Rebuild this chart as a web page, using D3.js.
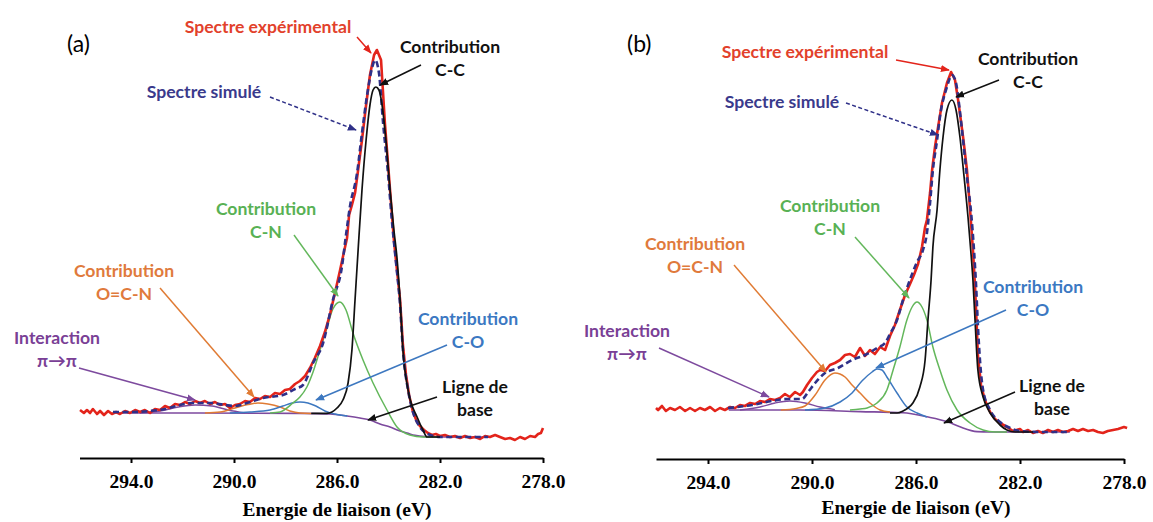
<!DOCTYPE html>
<html><head><meta charset="utf-8">
<script src="https://cdn.jsdelivr.net/npm/d3@7"></script>
<style>body{margin:0;background:#fff;} svg{display:block;}</style>
</head><body><svg id="c" width="1153" height="522"></svg>
<script>
// ---------- data ----------
const tickValues = [294, 290, 286, 282, 278];
const xDomain = [296, 278];
const axisTitle = "Energie de liaison (eV)";

// Panel (a)  [binding energy eV, intensity a.u.]
const expA = [[295.98,6.75],[295.83,6.0],[295.71,6.75],[295.59,6.0],[295.48,7.0],[295.32,5.75],[295.20,6.5],[295.05,5.5],[294.89,6.5],[294.74,5.75],[294.58,6.25],[294.43,5.75],[294.23,6.5],[294.04,6.0],[293.84,6.75],[293.65,6.25],[293.46,6.75],[293.26,6.0],[293.07,7.0],[292.87,6.75],[292.68,7.75],[292.49,7.25],[292.29,8.25],[292.10,8.0],[291.90,8.75],[291.71,8.25],[291.51,9.0],[291.32,8.5],[291.13,9.0],[290.93,8.25],[290.74,8.75],[290.54,8.0],[290.35,8.25],[290.16,7.25],[289.96,8.0],[289.77,8.25],[289.57,9.0],[289.38,8.75],[289.18,9.75],[288.99,9.5],[288.80,10.25],[288.60,10.0],[288.41,11.0],[288.21,10.75],[288.02,11.75],[287.83,12.0],[287.63,13.25],[287.44,14.0],[287.24,15.25],[287.05,17.25],[286.86,19.75],[286.66,22.75],[286.47,26.25],[286.27,30.75],[286.08,36],[285.88,41.75],[285.73,46.25],[285.61,49.75],[285.53,55.5],[285.42,58],[285.30,61],[285.18,66.75],[285.03,74.25],[284.87,83],[284.72,90.5],[284.56,95.5],[284.45,96.75],[284.37,95.5],[284.29,94.25],[284.14,78.5],[283.94,61.75],[283.79,49.25],[283.71,44.25],[283.55,34.25],[283.44,23],[283.32,15.5],[283.20,10.5],[283.05,6.25],[282.89,3.75],[282.78,2.75],[282.62,1.75],[282.47,1.0],[282.31,0.5],[282.16,0.75],[282.00,0.25],[281.81,0.5],[281.61,0],[281.42,0.25],[281.22,-0.25],[281.03,0.25],[280.83,-0.25],[280.64,0],[280.44,-0.5],[280.25,0.25],[280.06,0],[279.86,0.5],[279.67,0],[279.47,-0.5],[279.28,-0.25],[279.09,-0.75],[278.89,0],[278.70,-0.5],[278.50,0.25],[278.31,0],[278.19,0.75],[278.08,1.0],[278.0,2.25]];
const simA = [[294.70,6.25],[294.04,6.25],[293.26,6.5],[292.68,7.0],[292.10,8.0],[291.59,8.5],[290.93,8.5],[290.35,8.0],[289.96,7.75],[289.50,8.5],[288.87,9.75],[288.10,10.5],[287.63,12],[287.32,13],[286.93,18.5],[286.54,23.5],[286.16,34.25],[285.81,42.5],[285.65,50.5],[285.50,57.5],[285.22,66],[285.03,76],[284.80,86.75],[284.64,92.25],[284.52,94.25],[284.37,91],[284.21,78.5],[284.02,66],[283.86,53.5],[283.71,43.75],[283.55,33],[283.44,21.75],[283.24,11.75],[283.05,6.25],[282.78,2.5],[282.47,0.75],[282.0,0],[280.83,0],[280.13,0]];
const ccA = [[287.0,5.9],[286.39,5.9],[286.0,7.25],[285.77,9.25],[285.57,13.5],[285.42,21.75],[285.30,34.25],[285.18,46.75],[285.03,61.75],[284.87,74.25],[284.72,83],[284.60,86.75],[284.49,87.5],[284.37,86.75],[284.25,83],[284.10,74.25],[283.94,61.75],[283.79,51.75],[283.67,44.75],[283.55,34.25],[283.44,21.75],[283.24,11.75],[282.89,5.0],[282.66,1.75],[282.50,0],[282.0,0]];
const cnA = [[288.6,6],[288.21,6.25],[287.71,8.5],[287.44,10],[287.17,12.5],[286.93,16.25],[286.66,21.75],[286.39,27.25],[286.16,32],[285.89,33.75],[285.65,31.75],[285.38,26],[284.99,19.25],[284.6,13.5],[284.06,6.75],[283.67,2.5],[283.17,0.5],[282.66,0],[282.0,0]];
const coA = [[290.16,6],[289.38,6.25],[288.6,6.75],[288.1,7.75],[287.75,8.5],[287.44,8.75],[287.13,8.5],[286.82,7.75],[286.47,6.5],[286.08,5.75],[285.6,5.25]];
const ocnA = [[291.13,6],[290.54,6.25],[289.96,7.25],[289.46,8.1],[289.07,8.5],[288.68,8.25],[288.21,7.5],[287.83,6.5],[287.44,6],[287.0,5.9]];
const piA = [[293.65,6],[292.87,6.5],[292.17,7.5],[291.51,8],[290.85,7.75],[290.23,6.75],[289.57,6]];
const baseA = [[294.7,6],[291.32,6],[287.44,5.9],[286.27,5.75],[285.61,5.25],[285.11,4.75],[284.72,4.25],[284.33,3.25],[283.94,2.5],[283.55,1.5],[283.28,1.0],[282.97,0.4],[282.58,0.1],[282.0,0],[280.06,0]];

// Panel (b)
const expB = [[296.0,6.0],[295.92,5.5],[295.77,6.5],[295.62,5.25],[295.46,6.0],[295.27,5.5],[295.08,6.25],[294.88,5.25],[294.69,6.0],[294.50,5.25],[294.31,6.0],[294.12,5.5],[293.92,6.25],[293.73,5.25],[293.54,6.0],[293.35,5.5],[293.15,6.25],[292.96,6.0],[292.77,6.75],[292.58,6.5],[292.38,7.25],[292.19,7.0],[292.0,7.75],[291.81,7.5],[291.62,8.25],[291.42,8.0],[291.23,8.5],[291.04,9.5],[290.85,8.75],[290.65,10.0],[290.46,9.25],[290.35,10],[290.19,11.75],[290.0,13.5],[289.81,15],[289.69,15.5],[289.5,15.25],[289.31,16.75],[289.12,17.25],[288.92,18],[288.73,19.25],[288.54,19.5],[288.35,18.75],[288.15,21],[287.96,19],[287.77,20.5],[287.58,19.5],[287.38,21.25],[287.19,20.5],[287.0,24],[286.81,26.75],[286.62,30.5],[286.42,34.25],[286.23,37],[286.08,39.25],[285.92,42],[285.77,46.25],[285.65,51.25],[285.58,53],[285.46,59.75],[285.38,65.5],[285.27,71.25],[285.15,76.25],[285.0,82.25],[284.81,87.25],[284.65,90],[284.5,88],[284.38,83],[284.19,73.75],[284.04,65.5],[283.92,55.5],[283.81,45.5],[283.73,36.5],[283.67,27.5],[283.62,19.25],[283.50,11.75],[283.35,8],[283.15,5],[282.96,3.25],[282.77,2.25],[282.5,1.25],[282.27,0.25],[282.0,0.75],[281.88,0],[281.69,0.5],[281.5,-0.25],[281.31,0.25],[281.12,-0.25],[280.92,0.5],[280.73,0],[280.54,0.5],[280.35,0],[280.15,0.25],[279.96,0.75],[279.77,0.25],[279.58,0.75],[279.38,0.25],[279.19,0.5],[279.0,0],[278.81,-0.25],[278.62,0.25],[278.42,0.5],[278.23,0.75],[278.0,1.25],[277.88,1.0]];
const simB = [[293.23,6],[292.31,6.75],[291.54,7.75],[290.92,8.25],[290.38,8.25],[290.15,10],[289.88,12.25],[289.5,14.75],[289.0,16],[288.46,18],[287.96,19.25],[287.5,21],[287.19,22.25],[287.0,24.5],[286.73,28],[286.5,33],[286.12,40],[285.96,42.5],[285.73,45.5],[285.58,49.75],[285.46,57.25],[285.35,65.5],[285.19,73],[285.08,78.75],[284.81,86.25],[284.62,89.25],[284.46,87.25],[284.35,82.25],[284.19,73],[284.04,63.75],[283.88,54.75],[283.77,45.5],[283.69,36.75],[283.62,26.75],[283.54,18],[283.42,10.5],[283.15,5.5],[282.77,2.5],[282.38,1.0],[282.0,0.25],[281.23,0],[280.08,0]];
const ccB = [[287.0,4.75],[286.73,4.75],[286.5,5.25],[286.31,6.0],[286.12,7.25],[285.85,11.25],[285.65,18],[285.54,28],[285.42,38],[285.35,46.25],[285.19,55.5],[285.08,65.5],[284.96,73.75],[284.81,80.5],[284.62,83],[284.46,80.5],[284.31,73.75],[284.15,63.75],[284.0,53.75],[283.88,44.25],[283.81,38],[283.73,28],[283.62,15.5],[283.42,8.75],[283.15,4.75],[282.77,1.75],[282.5,0.5],[282.19,0],[281.5,0]];
const cnB = [[288.54,5.5],[288.15,5.75],[287.88,6.0],[287.5,7.25],[287.12,10.5],[286.88,15.5],[286.62,21.25],[286.35,28],[286.15,31.25],[285.96,32.5],[285.77,31.25],[285.58,28],[285.35,21.25],[285.08,15.5],[284.81,10.5],[284.42,5.5],[283.92,2.25],[283.42,0.5],[282.96,0],[282.5,0]];
const coB = [[290.27,5.5],[289.5,6.0],[288.92,7.5],[288.46,9.75],[288.08,12.75],[287.69,15],[287.5,15.75],[287.31,15.5],[287.12,13.75],[286.73,9.75],[286.35,6.25],[285.96,4.75],[285.58,3.75]];
const ocnB = [[291.2,5.5],[290.6,5.9],[290.27,6.5],[289.88,9.25],[289.5,13],[289.12,14.75],[288.73,13.75],[288.46,11.75],[288.15,9.75],[287.77,7.25],[287.38,5.5],[287.0,5]];
const piB = [[292.77,5.5],[292.0,6.25],[291.42,7.25],[290.85,7.75],[290.27,7.25],[289.69,6.25],[289.12,5.6]];
const baseB = [[293.2,5.5],[290.46,5.5],[288.15,5.1],[286.5,4.8],[285.58,3.8],[284.81,2.6],[284.31,1.3],[283.65,0.1],[283.15,0],[280.08,0]];

// ---------- styling ----------
const C = {
  exp:"#e3241b", sim:"#2f3088", cc:"#111111", cn:"#63b75b", co:"#3d78c0", ocn:"#e07b34", pi:"#7d4a9e", base:"#7d4a9e",
  tExp:"#e2412b", tSim:"#3a3a8c", tCC:"#111111", tCN:"#58b154", tOCN:"#e07a3c", tCO:"#3b78c2", tPi:"#7a3f96"
};

const panels = [
  { tag:"(a)", tagX:67, xr:[79.5,543], yr:[437,37], axisY:458, titleY:516,
    series:{exp:expA, sim:simA, cc:ccA, cn:cnA, co:coA, ocn:ocnA, pi:piA, base:baseA},
    notes:[
      {lines:["Spectre expérimental"], col:C.tExp, x:268, y:33, a:[357,37,371,53], ac:C.exp},
      {lines:["Contribution","C-C"], col:C.tCC, x:450, y:53, a:[421,65,380,85], ac:C.cc},
      {lines:["Spectre simulé"], col:C.tSim, x:204, y:98, a:[270,97,356,130], ac:C.sim, dash:true},
      {lines:["Contribution","C-N"], col:C.tCN, x:266, y:215, a:[294,235,338,296], ac:C.cn},
      {lines:["Contribution","O=C-N"], col:C.tOCN, x:124, y:277, a:[160,288,254,397], ac:C.ocn},
      {lines:["Contribution","C-O"], col:C.tCO, x:468, y:325, a:[447,345,316,400], ac:C.co},
      {lines:["Interaction","π→π"], col:C.tPi, x:57, y:344, a:[79,368,195,400], ac:C.pi},
      {lines:["Ligne de","base"], col:C.tCC, x:475, y:393, a:[437,397,368,420], ac:C.cc}
    ]},
  { tag:"(b)", tagX:627, xr:[656,1124], yr:[432,32], axisY:459, titleY:514,
    series:{exp:expB, sim:simB, cc:ccB, cn:cnB, co:coB, ocn:ocnB, pi:piB, base:baseB},
    notes:[
      {lines:["Spectre expérimental"], col:C.tExp, x:805, y:58, a:[896,60,949,70], ac:C.exp},
      {lines:["Contribution","C-C"], col:C.tCC, x:1028, y:65, a:[999,80,956,97], ac:C.cc},
      {lines:["Spectre simulé"], col:C.tSim, x:782, y:108, a:[846,103,938,135], ac:C.sim, dash:true},
      {lines:["Contribution","C-N"], col:C.tCN, x:830, y:212, a:[855,237,909,298], ac:C.cn},
      {lines:["Contribution","O=C-N"], col:C.tOCN, x:695, y:250, a:[734,265,826,372], ac:C.ocn},
      {lines:["Contribution","C-O"], col:C.tCO, x:1033, y:293, a:[1006,310,876,368], ac:C.co},
      {lines:["Interaction","π→π"], col:C.tPi, x:627, y:337, a:[659,348,769,397], ac:C.pi},
      {lines:["Ligne de","base"], col:C.tCC, x:1052, y:392, a:[1015,392,944,423], ac:C.cc}
    ]}
];

const svg = d3.select("#c");
svg.append("rect").attr("width",1153).attr("height",522).attr("fill","#fff");
const defs = svg.append("defs");
const colsUsed = Array.from(new Set(Object.values(C)));
colsUsed.forEach(c=>{
  defs.append("marker").attr("id","m"+c.slice(1)).attr("viewBox","0 0 10 10")
    .attr("refX",9).attr("refY",5).attr("markerWidth",9).attr("markerHeight",9)
    .attr("markerUnits","userSpaceOnUse").attr("orient","auto")
    .append("path").attr("d","M0,1 L10,5 L0,9 Z").attr("fill",c);
});

panels.forEach(p=>{
  const g = svg.append("g");
  const x = d3.scaleLinear().domain(xDomain).range(p.xr);
  const y = d3.scaleLinear().domain([0,100]).range(p.yr);
  const smooth = d3.line().x(d=>x(d[0])).y(d=>y(d[1])).curve(d3.curveMonotoneX);
  const raw = d3.line().x(d=>x(d[0])).y(d=>y(d[1]));
  const s = p.series;
  const draw = (data, gen, col, w, dash) => g.append("path").datum(data).attr("d",gen)
      .attr("fill","none").attr("stroke",col).attr("stroke-width",w)
      .attr("stroke-linejoin","round").attr("stroke-dasharray",dash||null);
  draw(s.base, smooth, C.base, 1.6);
  draw(s.pi, smooth, C.pi, 1.4);
  draw(s.ocn, smooth, C.ocn, 1.5);
  draw(s.co, smooth, C.co, 1.5);
  draw(s.cn, smooth, C.cn, 1.5);
  draw(s.exp, raw, C.exp, 2.6);
  draw(s.sim, smooth, C.sim, 2.6, "6,3.5");
  draw(s.cc, smooth, C.cc, 1.7);

  // axis
  const ax = g.append("g").attr("transform",`translate(0,${p.axisY})`)
    .call(d3.axisBottom(x).tickValues(tickValues).tickSize(5).tickSizeOuter(0).tickPadding(11)
      .tickFormat(d=>d.toFixed(1)));
  ax.select(".domain").attr("stroke","#000").attr("stroke-width",2);
  ax.selectAll(".tick line").attr("stroke","#000").attr("stroke-width",2);
  ax.selectAll(".tick text").attr("fill","#000").style("font-family","'Liberation Serif','Times New Roman',serif")
    .style("font-weight","bold").style("font-size","19.5px");
  g.append("text").attr("x",x(286)).attr("y",p.titleY).attr("text-anchor","middle")
    .style("font-family","'Liberation Serif','Times New Roman',serif").style("font-weight","bold")
    .style("font-size","19.5px").attr("fill","#000").text(axisTitle);

  // panel tag
  g.append("text").attr("x",p.tagX).attr("y",52).style("font-family","Lato, 'Open Sans', sans-serif")
    .style("font-size","23px").attr("fill","#000").text(p.tag);

  // annotations
  p.notes.forEach(n=>{
    g.append("line").attr("x1",n.a[0]).attr("y1",n.a[1]).attr("x2",n.a[2]).attr("y2",n.a[3])
      .attr("stroke",n.ac).attr("stroke-width",1.5).attr("stroke-dasharray",n.dash?"4,2.5":null)
      .attr("marker-end",`url(#m${n.ac.slice(1)})`);
    const t = g.append("text").attr("text-anchor","middle").attr("fill",n.col)
      .style("font-family","Lato, 'Open Sans', sans-serif").style("font-weight","bold").style("font-size","17.6px");
    n.lines.forEach((l,i)=>t.append("tspan").attr("x",n.x).attr("y",n.y+i*23).text(l));
  });
});
</script>
</body></html>
